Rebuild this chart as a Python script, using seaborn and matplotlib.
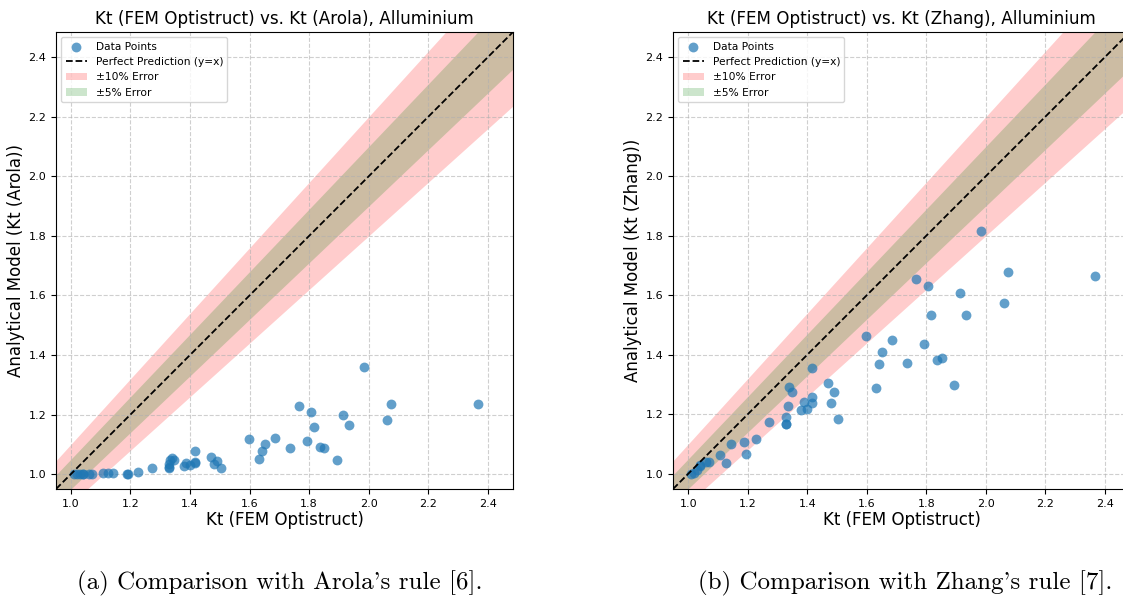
import numpy as np
import pandas as pd
import matplotlib
matplotlib.use("Agg")
import matplotlib.pyplot as plt
import seaborn as sns

# Stress concentration factors: FEM (Optistruct) reference values
kt_fem = [1.01, 1.02, 1.03, 1.04, 1.04, 1.06, 1.07,
          1.107, 1.125, 1.142, 1.187, 1.192, 1.226, 1.272,
          1.328, 1.328, 1.328, 1.333, 1.339, 1.347,
          1.380, 1.387, 1.400, 1.417, 1.417, 1.417,
          1.469, 1.480, 1.489, 1.503, 1.597, 1.631, 1.640, 1.651,
          1.685, 1.735, 1.765, 1.793, 1.806, 1.815, 1.837, 1.851,
          1.892, 1.914, 1.933, 1.984, 2.060, 2.074, 2.366]

# Analytical predictions, Arola's rule
kt_arola = [1.000, 1.000, 1.000, 1.000, 1.000, 1.000, 1.001,
            1.003, 1.003, 1.004, 1.002, 1.002, 1.007, 1.019,
            1.019, 1.025, 1.034, 1.049, 1.055, 1.047,
            1.027, 1.036, 1.030, 1.036, 1.041, 1.077,
            1.056, 1.034, 1.045, 1.021, 1.117, 1.052, 1.077, 1.100,
            1.122, 1.087, 1.227, 1.110, 1.210, 1.157, 1.090, 1.087,
            1.049, 1.199, 1.164, 1.361, 1.182, 1.237, 1.235]

# Analytical predictions, Zhang's rule
kt_zhang = [0.998, 1.002, 1.013, 1.025, 1.029, 1.038, 1.040,
            1.061, 1.036, 1.098, 1.105, 1.067, 1.117, 1.174,
            1.165, 1.165, 1.190, 1.227, 1.292, 1.274,
            1.214, 1.240, 1.218, 1.257, 1.237, 1.354,
            1.306, 1.237, 1.274, 1.182, 1.462, 1.286, 1.367, 1.408,
            1.449, 1.372, 1.654, 1.434, 1.629, 1.532, 1.381, 1.388,
            1.297, 1.606, 1.534, 1.817, 1.573, 1.677, 1.664]

titles = ["Kt (FEM Optistruct) vs. Kt (Arola), Alluminium",
          "Kt (FEM Optistruct) vs. Kt (Zhang), Alluminium"]
ylabels = ["Analytical Model (Kt (Arola))", "Analytical Model (Kt (Zhang))"]
# cmr10 uses the TeX encoding, where ' is drawn as a closing quote
captions = ["(a) Comparison with Arola's rule [6].",
            "(b) Comparison with Zhang's rule [7]."]
xlabel = "Kt (FEM Optistruct)"

W, H = 1123, 597
fig = plt.figure(figsize=(W / 100, H / 100), dpi=100)

axes_px = [(56, 32, 457, 457), (673, 32, 457, 457)]
caption_x = [280, 905]

for i, (pred, px) in enumerate(zip([kt_arola, kt_zhang], axes_px)):
    x0, y0, w, h = px
    ax = fig.add_axes([x0 / W, 1 - (y0 + h) / H, w / W, h / H])
    df = pd.DataFrame({"fem": kt_fem, "model": pred})

    all_vals = np.array(kt_fem + pred)
    lims = np.array([all_vals.min() * 0.95, all_vals.max() * 1.05])

    sns.scatterplot(data=df, x="fem", y="model", ax=ax, s=50, alpha=0.7,
                    color="#1f77b4", linewidth=0, label="Data Points", zorder=3)
    ax.plot(lims, lims, "k--", lw=1.3, label="Perfect Prediction (y=x)", zorder=4)
    ax.fill_between(lims, lims * 0.9, lims * 1.1, color="red", alpha=0.2,
                    label="\u00b110% Error", linewidth=0)
    ax.fill_between(lims, lims * 0.95, lims * 1.05, color="green", alpha=0.2,
                    label="\u00b15% Error", linewidth=0)

    ax.set_xlim(lims)
    ax.set_ylim(lims)
    ticks = np.arange(1.0, 2.41, 0.2)
    ax.set_xticks(ticks)
    ax.set_yticks(ticks)
    ax.tick_params(labelsize=8)
    ax.grid(True, linestyle="--", alpha=0.6)
    ax.set_title(titles[i], fontsize=12.1)
    ax.set_xlabel(xlabel, fontsize=12, labelpad=1.5)
    ax.set_ylabel(ylabels[i], fontsize=12, labelpad=2.5)
    ax.legend(loc="upper left", fontsize=7.7)

    fig.text(caption_x[i] / W, 1 - 583 / H, captions[i], ha="center", va="center",
             fontsize=18, family="cmr10")

fig.savefig("out.png", dpi=100)
